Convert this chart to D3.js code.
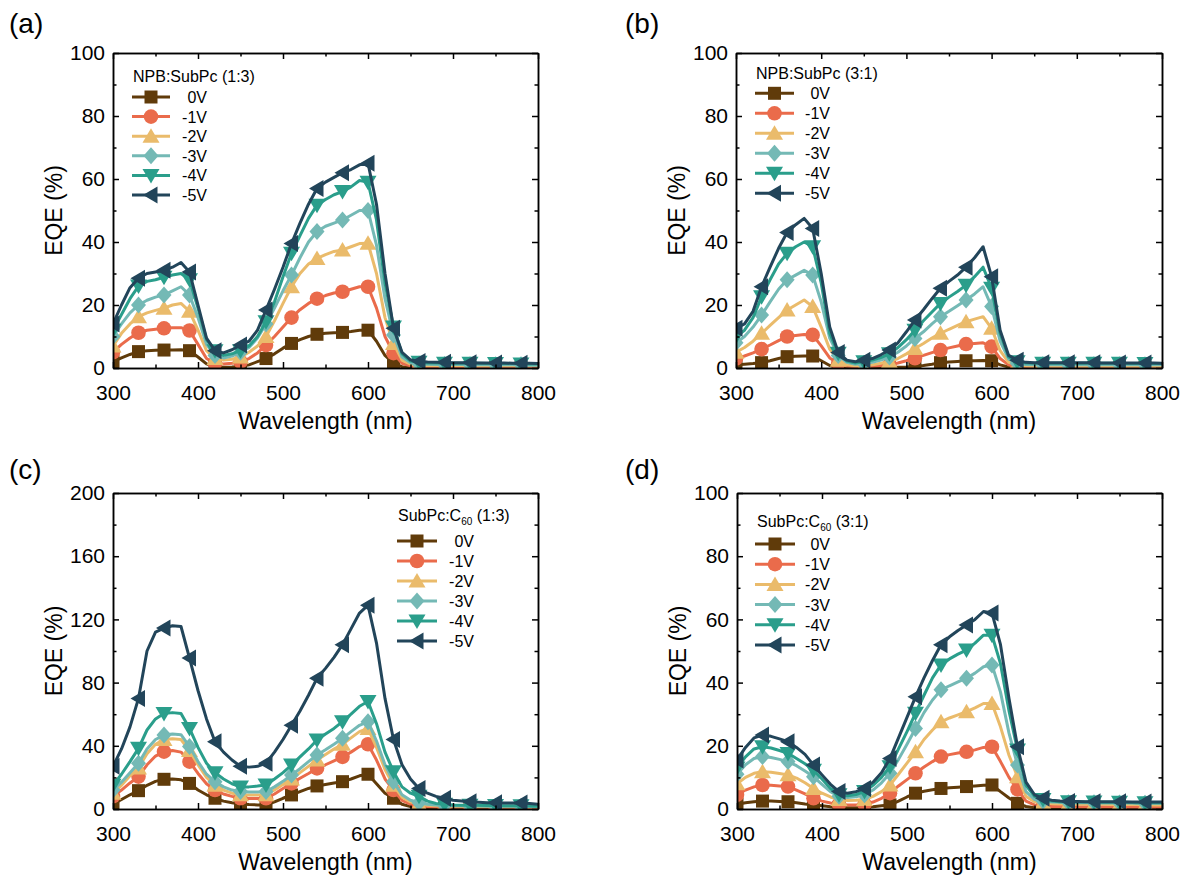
<!DOCTYPE html>
<html><head><meta charset="utf-8">
<script src="https://cdn.jsdelivr.net/npm/d3@7"></script>
<style>
body{margin:0;background:#fff}
svg{display:block}
text{font-family:"Liberation Sans",Arial,sans-serif;fill:#000}
</style>
</head><body>
<svg id="chart" width="1181" height="875"></svg>
<script>
// ---------------- DATA ----------------
const wavelength = [300,310,320,330,340,350,360,370,380,390,400,410,420,430,440,450,460,470,480,490,500,510,520,530,540,550,560,570,580,590,600,610,620,630,640,650,660,670,680,690,700,710,720,730,740,750,760,770,780,790,800];
const voltages = ["0V","-1V","-2V","-3V","-4V","-5V"];
const xTickValues = [300,400,500,600,700,800];
const xMinorValues = [350,450,550,650,750];
const yTicks100 = [0,20,40,60,80,100];
const yMinor100 = [10,30,50,70,90];
const yTicks200 = [0,40,80,120,160,200];
const yMinor200 = [20,60,100,140,180];

// (a) NPB:SubPc (1:3)
const a0V = [2,3.2,4.3,5.2,5.5,5.6,5.7,5.7,5.8,5.5, 3.5,1.3,0.4,0.2,0.3,0.5,1,2,3,4.5, 6.3,7.8,9,10,10.7,11,11.2,11.3,11.6,12, 12,8.5,4,1.5,0.4,0.2,0.1,0.1,0.1,0.1, 0.1,0.1,0.1,0.1,0.1,0.1,0.1,0.1,0.1,0.1, 0.1];
const a1V = [5,7.5,9.5,11.2,12,12.3,12.6,12.8,12.8,11.9, 7.5,3,1.5,1.3,1.5,2,3,4.8,7.3,10, 13,16,18.5,20.5,22,23,23.8,24.2,25,25.8, 25.8,19,10,4.7,1.5,0.7,0.5,0.4,0.4,0.4, 0.4,0.4,0.4,0.4,0.4,0.4,0.4,0.4,0.4,0.4, 0.4];
const a2V = [7,11,14,16.3,17.5,18.3,19,20,20.5,18, 12,5.5,3,2.5,2.8,3.5,5,7,10,15, 20.5,25.8,30,33,34.8,36,37,37.5,38.5,39.5, 39.6,30,16,7.8,2.5,1.2,0.9,0.8,0.8,0.8, 0.8,0.8,0.7,0.7,0.7,0.7,0.7,0.7,0.7,0.7, 0.7];
const a3V = [10,14,17.5,20,21.5,22.5,23.2,24.5,25.8,23.2, 16,7.5,4,3.2,3.8,5,6.5,9.5,14,19, 24.5,29.5,35,40,43.3,45,46,47,48.5,50, 50,39,22,10.5,3.5,1.7,1.3,1.2,1.1,1.1, 1.1,1.1,1,1,1,1,1,1,1,0.9, 0.9];
const a4V = [12,17,22,26,27.5,28,28.8,29.5,30,28, 19,9,5.5,4,4.5,5.5,7,10,14.7,21, 29,36.4,42,47.5,51.7,53.5,55,56,57.5,59.5, 59,47,27,13,4.5,2.2,1.8,1.6,1.6,1.5, 1.5,1.5,1.5,1.5,1.4,1.4,1.4,1.4,1.3,1.3, 1.3];
const a5V = [14,20,25.5,28.5,30,30.5,31,32,33.5,30.5, 20,9.5,5.5,4.8,5.8,7.3,8.5,12,18.4,25, 32,39.5,46,52,57,59,60.5,62,63,64.5, 65,52,30,12.6,5,2.6,2.1,1.9,1.8,1.8, 1.7,1.7,1.7,1.6,1.6,1.6,1.6,1.5,1.5,1.5, 1.4];

// (b) NPB:SubPc (3:1)
const b0V = [1,1.2,1.4,1.7,2.3,3,3.6,3.7,3.8,3.8, 2.3,0.8,0.3,0.1,0.1,0.1,0.1,0.1,0.1,0.2, 0.3,0.5,0.8,1.2,1.7,1.9,2.1,2.3,2.3,2.4, 2.3,1,0.3,0.1,0.1,0.1,0.1,0.1,0.1,0.1, 0.1,0.1,0.1,0.1,0.1,0.1,0.1,0.1,0.1,0.1, 0.1];
const b1V = [3,3.8,4.8,6,7.3,8.7,10,10.3,10.6,10.5, 7,3.2,1.5,0.6,0.4,0.5,0.6,0.8,1,1.6, 2.3,3.1,4,4.9,5.7,6.4,7,7.6,7.8,8, 6.8,3,1,0.5,0.4,0.4,0.4,0.4,0.4,0.4, 0.4,0.4,0.4,0.4,0.4,0.4,0.4,0.4,0.4,0.4, 0.4];
const b2V = [5,6.5,8.5,11,13.5,16,18.4,20,21.6,19.5, 13,6,2.5,1,0.7,0.8,1,1.5,2,3, 4.5,6.2,7.8,9.5,11,12.3,13.5,14.7,15.5,16.3, 12.6,5.5,1.8,1,0.7,0.6,0.6,0.6,0.6,0.6, 0.6,0.6,0.6,0.6,0.6,0.6,0.6,0.6,0.6,0.6, 0.6];
const b3V = [8,10,13,16.8,21,25,28,29.5,31,29.5, 21,9.5,4,1.8,1.2,1.5,1.8,2.5,3.5,5, 7,9.4,11.5,14,16.3,18,19.8,21.6,23.5,25.8, 19.5,8.5,2.8,1.5,1.1,1,1,1,1,1, 1,1,1,1,1,1,1,1,1,1, 1];
const b4V = [10,12,16,22.6,28,33,36.4,38.5,40,38.5, 27,11,4.7,2.2,1.6,2,2.5,3.3,4.5,6.5, 9,12,15,17.8,20.5,22.5,24.3,26.3,29,32, 25.3,11,3.5,2,1.6,1.5,1.5,1.5,1.5,1.5, 1.5,1.5,1.5,1.5,1.5,1.5,1.4,1.4,1.4,1.4, 1.4];
const b5V = [12.6,14,18,25.8,32,38,43,45.5,47.5,44.3, 30,13,4.9,2.5,2,2.5,3,4.2,5.7,8, 11.5,15.2,18.5,22,25.3,27.5,29.5,32,35,38.5, 29,12,4,2.5,1.8,1.7,1.7,1.7,1.7,1.7, 1.7,1.7,1.7,1.6,1.6,1.6,1.6,1.6,1.6,1.6, 1.5];

// (c) SubPc:C60 (1:3)
const c0V = [3,6,9,11.6,15,17.5,18.8,19,18.5,16.2, 12,9,6.8,5,4,3.2,2.8,2.6,2.5,4.5, 6.8,8.9,11,13,14.6,15.5,16.5,17.3,19,21, 22,16,10,6.8,3,1.5,1,0.8,0.8,0.7, 0.7,0.7,0.6,0.6,0.6,0.6,0.5,0.5,0.5,0.5, 0.5];
const c1V = [8,12,16.5,20.5,28,33.5,36.3,37,36,30, 22.5,16,12,9.5,8,6.8,6.6,6.7,6.8,9.5, 13,16.2,19.5,22.5,25.7,28,30.5,33,36,39.5, 41,31,19,12,5.5,3,2,1.6,1.4,1.4, 1.3,1.3,1.2,1.2,1.2,1.1,1.1,1.1,1,1, 1];
const c2V = [10,15,21,26,35,41,44,44.5,44,37, 28,20,15,12,10,9,8.8,8.8,9,12, 15.5,19,23,27,31,34.5,38,41,45,49, 51,39,25,15,7.5,4.5,3,2.3,2,1.8, 1.8,1.7,1.7,1.6,1.6,1.5,1.5,1.4,1.4,1.3, 1.3];
const c3V = [12,17,23,28.9,38,44,46.8,47.5,47,39.5, 30,22,17.3,14,12,11,10.7,10.8,11,14, 17.5,21.5,25.5,30,34.2,37.5,41,44.7,49,53, 55.3,43,28,17.3,9,5.5,4,3,2.5,2.2, 2,2,1.9,1.9,1.8,1.8,1.7,1.7,1.6,1.6, 1.5];
const c4V = [15,22,30,38.4,50,57,60.5,61,60.5,51, 39,29,23,19,16,14,14,14.5,15.2,19, 23,27.8,33,38,43.7,47.5,51,55.3,60,65, 68,54,36,23.6,14,10,8,5,3.5,3, 2.5,2.4,2.3,2.3,2.2,2.2,2.1,2,2,1.9, 1.8];
const c5V = [27,38,52,70,100,112,114.5,116,115.5,95.5, 75,57,42.6,36,31,27,26.5,27,29,36, 44,53,62,72,82.7,89,96,104,114,124, 129,105,70,44,28,19,13,10,8,6.8, 5.5,5,4.6,4.3,4,4,3.8,3.8,3.8,3.5, 3];

// (d) SubPc:C60 (3:1)
const d0V = [1.5,2,2.3,2.5,2.5,2.4,2.3,2,1.6,1.3, 1,0.7,0.5,0.4,0.4,0.5,0.7,1,1.3,2.5, 3.8,5,5.6,6.1,6.5,6.7,6.9,7.1,7.3,7.5, 7.6,5.5,3.5,1.8,0.8,0.4,0.3,0.3,0.3,0.3, 0.3,0.3,0.3,0.3,0.3,0.2,0.2,0.2,0.2,0.2, 0.2];
const d1V = [4.5,6,7,7.6,7.5,7.3,7.1,6,4.8,3.4, 2.5,1.9,1.5,1.3,1.3,1.5,2.2,3.4,5,7.3, 9.3,11.3,13.3,15,16.6,17.2,17.7,18.1,18.7,19.5, 19.7,15,10,6.2,2.5,1.3,1,0.8,0.8,0.7, 0.7,0.7,0.7,0.7,0.7,0.6,0.6,0.6,0.6,0.6, 0.6];
const d2V = [8,10,11.3,11.8,11.6,11.2,10.8,9.8,8.3,6.5, 5,3.8,3,2.7,2.8,3,4,5.5,7.6,11, 14.5,18.1,22,25,27.6,28.8,29.8,30.8,32,33.4, 33.4,26,17,10.2,4,2.3,2,1.7,1.6,1.6, 1.5,1.5,1.5,1.5,1.4,1.4,1.4,1.4,1.3,1.3, 1.3];
const d3V = [11,14,16,16.6,16.3,15.7,15,13.7,12,10.2, 7.8,5.5,4,3.6,3.9,4.5,6,8.3,11.3,15.7, 20.5,25.5,30.5,34.5,37.7,39,40.2,41.4,43,45, 45.6,37,24,13.9,5.5,3,2.5,2.2,2.1,2, 2,2,2,1.9,1.9,1.9,1.9,1.8,1.8,1.8, 1.8];
const d4V = [13,16.5,19,19.7,19.3,18.5,17.6,16,14.3,12.3, 9.5,6.5,4.5,4.2,4.6,5.5,7.5,10,13.4,19, 24.5,30.3,36,41.5,45.6,47.5,49,50.3,52.5,55, 55,46,31,18.7,7.5,4,3,2.5,2.3,2.3, 2.2,2.2,2.2,2.1,2.1,2.1,2.1,2,2,2, 2];
const d5V = [15.5,19.5,22.5,23.4,23,22.2,21.3,19.5,17.3,13.9, 10.8,7.8,5.5,5,5.5,6.5,8.5,11.5,16,22.5, 29,35.5,41.5,47,52,54.5,56.5,58.2,60,62.5, 62,52,35,19.7,8.5,4.5,3.4,2.8,2.5,2.4, 2.4,2.3,2.3,2.3,2.3,2.3,2.2,2.2,2.2,2.2, 2.2];

// ---------------- STYLE ----------------
const colors = ["#603b0a","#ea6b4b","#eabb6b","#74b9b5","#2a9e8b","#22455a"];
const markerPaths = [
  "M-6.5,-6.5H6.5V6.5H-6.5Z",
  "M7.3,0A7.3,7.3 0 1,1 -7.3,0A7.3,7.3 0 1,1 7.3,0Z",
  "M0,-8L8.5,6.5L-8.5,6.5Z",
  "M0,-8.5L7.5,0L0,8.5L-7.5,0Z",
  "M0,8L8.5,-6.5L-8.5,-6.5Z",
  "M-8,0L6.5,-8.5L6.5,8.5Z"
];

const panels = [
  {label:"(a)", lx:9, ly:33, title:["NPB:SubPc (1:3)"], series:[a0V,a1V,a2V,a3V,a4V,a5V],
   yMax:100, yTicks:yTicks100, yMinor:yMinor100, box:{l:113,r:538,t:53,b:368},
   leg:{tx:133, ty:82, y0:97, dy:19.6, x0:132, x1:170, le:207}},
  {label:"(b)", lx:625, ly:33, title:["NPB:SubPc (3:1)"], series:[b0V,b1V,b2V,b3V,b4V,b5V],
   yMax:100, yTicks:yTicks100, yMinor:yMinor100, box:{l:736,r:1162,t:53,b:368},
   leg:{tx:756, ty:79, y0:93.3, dy:20, x0:755, x1:794, le:830}},
  {label:"(c)", lx:9, ly:479, title:["SubPc:C","60"," (1:3)"], series:[c0V,c1V,c2V,c3V,c4V,c5V],
   yMax:200, yTicks:yTicks200, yMinor:yMinor200, box:{l:113,r:538,t:493,b:809},
   leg:{tx:398, ty:521, y0:541, dy:20, x0:397, x1:437, le:474}},
  {label:"(d)", lx:625, ly:479, title:["SubPc:C","60"," (3:1)"], series:[d0V,d1V,d2V,d3V,d4V,d5V],
   yMax:100, yTicks:yTicks100, yMinor:yMinor100, box:{l:737,r:1162,t:493,b:809},
   leg:{tx:757, ty:527, y0:544, dy:20.2, x0:755, x1:795, le:830}}
];

const svg = d3.select("#chart");

panels.forEach((p, pi) => {
  const b = p.box;
  const x = d3.scaleLinear().domain([300, 800]).range([b.l, b.r]);
  const y = d3.scaleLinear().domain([0, p.yMax]).range([b.b, b.t]);
  const g = svg.append("g");

  const clipId = "clip" + pi;
  svg.append("defs").append("clipPath").attr("id", clipId)
    .append("rect").attr("x", b.l).attr("y", b.t).attr("width", b.r - b.l).attr("height", b.b - b.t);

  const plot = g.append("g").attr("clip-path", `url(#${clipId})`);
  const line = d3.line().x((d, i) => x(wavelength[i])).y(d => y(d));

  p.series.forEach((s, si) => {
    const sg = plot.append("g");
    sg.append("path").datum(s).attr("d", line)
      .attr("fill", "none").attr("stroke", colors[si]).attr("stroke-width", 3)
      .attr("stroke-linejoin", "round");
    sg.selectAll("path.m").data(s.map((v, i) => ({v, w: wavelength[i], i})).filter(d => d.i % 3 === 0))
      .enter().append("path").attr("class", "m")
      .attr("d", markerPaths[si])
      .attr("transform", d => `translate(${x(d.w)},${y(d.v)})`)
      .attr("fill", colors[si]);
  });

  // axes
  const styleAxis = sel => {
    sel.selectAll("path.domain").attr("stroke", "#000").attr("stroke-width", 1.5);
    sel.selectAll(".tick line").attr("stroke", "#000").attr("stroke-width", 1.5);
    sel.selectAll(".tick text").attr("font-size", 21).attr("font-family", '"Liberation Sans",Arial,sans-serif').attr("fill", "#000");
  };
  const addAxis = (axis, tx, ty) => g.append("g").attr("transform", `translate(${tx},${ty})`).call(axis).call(styleAxis);

  addAxis(d3.axisBottom(x).tickValues(xTickValues).tickSize(-6).tickSizeOuter(0).tickPadding(17).tickFormat(d3.format("d")), 0, b.b);
  addAxis(d3.axisBottom(x).tickValues(xMinorValues).tickSize(-3.5).tickSizeOuter(0).tickFormat(""), 0, b.b);
  addAxis(d3.axisTop(x).tickValues(xTickValues).tickSize(-6).tickSizeOuter(0).tickFormat(""), 0, b.t);
  addAxis(d3.axisTop(x).tickValues(xMinorValues).tickSize(-3.5).tickSizeOuter(0).tickFormat(""), 0, b.t);
  addAxis(d3.axisLeft(y).tickValues(p.yTicks).tickSize(-6).tickSizeOuter(0).tickPadding(8).tickFormat(d3.format("d")), b.l, 0);
  addAxis(d3.axisLeft(y).tickValues(p.yMinor).tickSize(-3.5).tickSizeOuter(0).tickFormat(""), b.l, 0);
  addAxis(d3.axisRight(y).tickValues(p.yTicks).tickSize(-6).tickSizeOuter(0).tickFormat(""), b.r, 0);
  addAxis(d3.axisRight(y).tickValues(p.yMinor).tickSize(-3.5).tickSizeOuter(0).tickFormat(""), b.r, 0);

  // axis titles
  g.append("text").attr("x", (b.l + b.r) / 2).attr("y", b.b + 61)
    .attr("text-anchor", "middle").attr("font-size", 23).text("Wavelength (nm)");
  g.append("text").attr("transform", `translate(${b.l - 51},${(b.t + b.b) / 2}) rotate(-90)`)
    .attr("text-anchor", "middle").attr("font-size", 23).text("EQE (%)");

  // panel label
  g.append("text").attr("x", p.lx).attr("y", p.ly).attr("font-size", 28)
    .attr("font-family", '"Open Sans","Noto Sans",sans-serif').text(p.label);

  // legend
  const L = p.leg;
  const t = g.append("text").attr("x", L.tx).attr("y", L.ty).attr("font-size", 16);
  if (p.title.length === 1) {
    t.text(p.title[0]);
  } else {
    t.append("tspan").text(p.title[0]);
    t.append("tspan").attr("font-size", 10).attr("dy", 4).text(p.title[1]);
    t.append("tspan").attr("font-size", 16).attr("dy", -4).text(p.title[2]);
  }
  voltages.forEach((v, si) => {
    const cy = L.y0 + si * L.dy;
    g.append("line").attr("x1", L.x0).attr("x2", L.x1).attr("y1", cy).attr("y2", cy)
      .attr("stroke", colors[si]).attr("stroke-width", 3);
    g.append("path").attr("d", markerPaths[si])
      .attr("transform", `translate(${(L.x0 + L.x1) / 2},${cy})`).attr("fill", colors[si]);
    g.append("text").attr("x", L.le).attr("y", cy + 6).attr("text-anchor", "end")
      .attr("font-size", 16).text(v);
  });
});
</script>
</body></html>
